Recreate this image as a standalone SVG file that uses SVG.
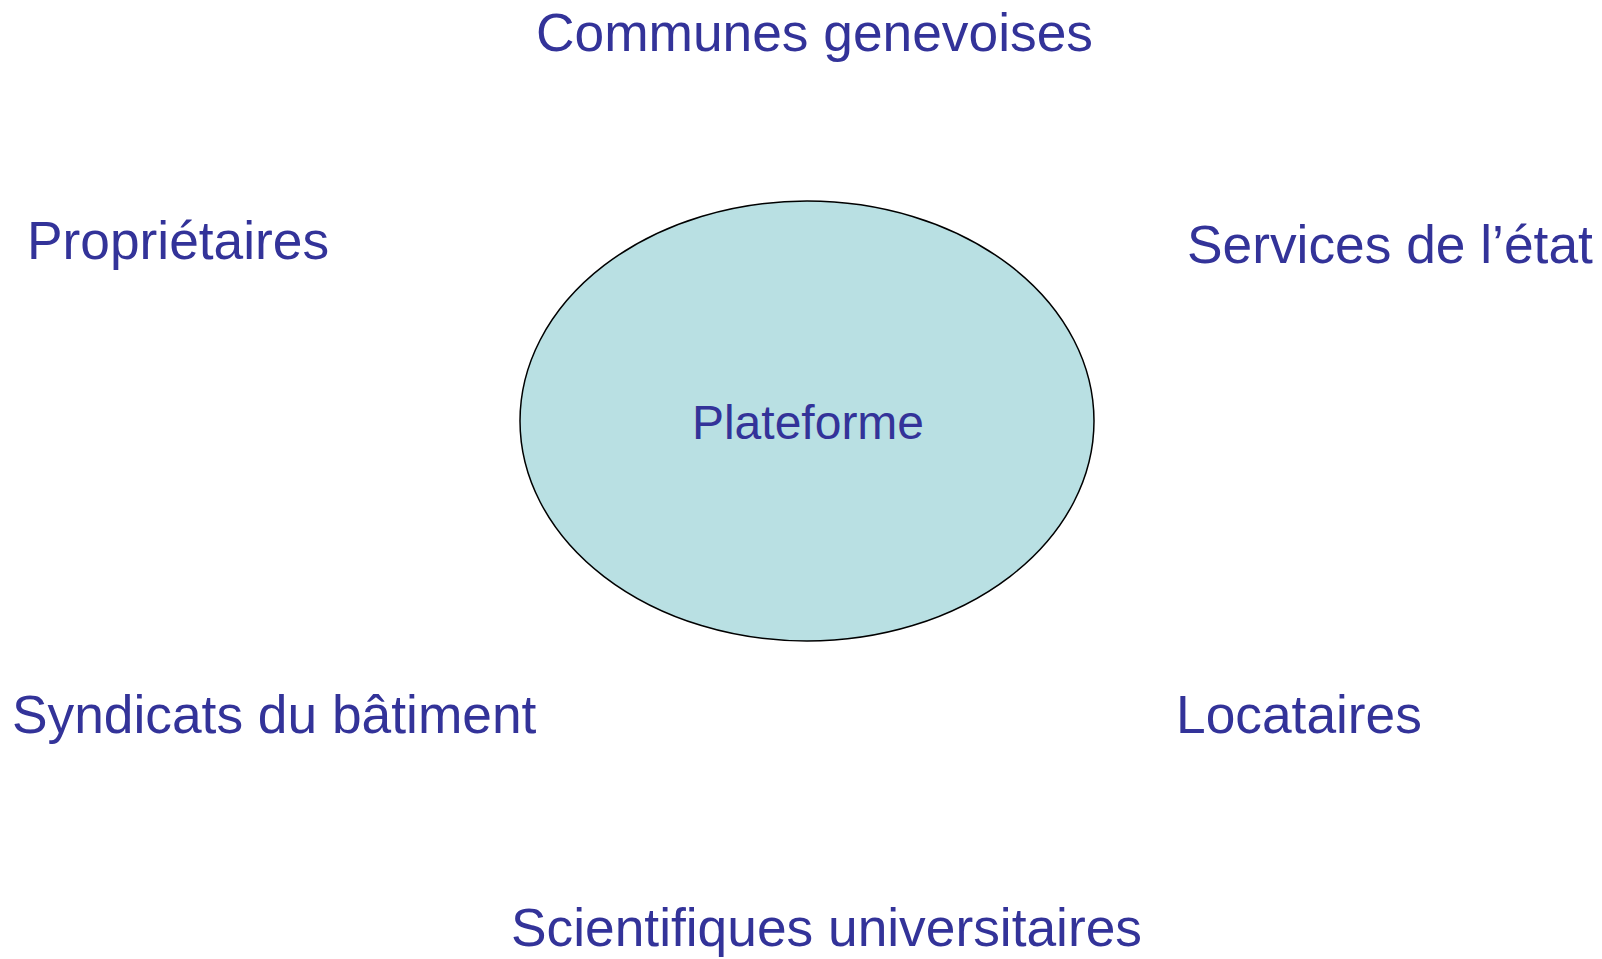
<svg xmlns="http://www.w3.org/2000/svg" width="1602" height="959" viewBox="0 0 1602 959">
  <style>
    .lbl { font-family: "Liberation Sans", Arial, sans-serif; font-size: 53.3px; fill: #333399; }
    .center { font-family: "Liberation Sans", Arial, sans-serif; font-size: 48px; fill: #333399; text-anchor: middle; }
    .ell { fill: #b9e0e3; stroke: #000000; stroke-width: 1.5; }
  </style>
  <rect width="1602" height="959" fill="#ffffff"/>
  <g id="connectors"></g>
  <g id="plateforme">
    <ellipse class="ell" cx="807" cy="421" rx="287" ry="220"/>
    <text class="center" x="808" y="439">Plateforme</text>
  </g>
  <g id="communes">
    <text class="lbl" x="536" y="51">Communes genevoises</text>
  </g>
  <g id="proprietaires">
    <text class="lbl" x="27" y="259">Propriétaires</text>
  </g>
  <g id="services">
    <text class="lbl" x="1187" y="263">Services de l’état</text>
  </g>
  <g id="syndicats">
    <text class="lbl" x="12" y="733">Syndicats du bâtiment</text>
  </g>
  <g id="locataires">
    <text class="lbl" x="1176" y="733">Locataires</text>
  </g>
  <g id="scientifiques">
    <text class="lbl" x="511" y="946">Scientifiques universitaires</text>
  </g>
</svg>
